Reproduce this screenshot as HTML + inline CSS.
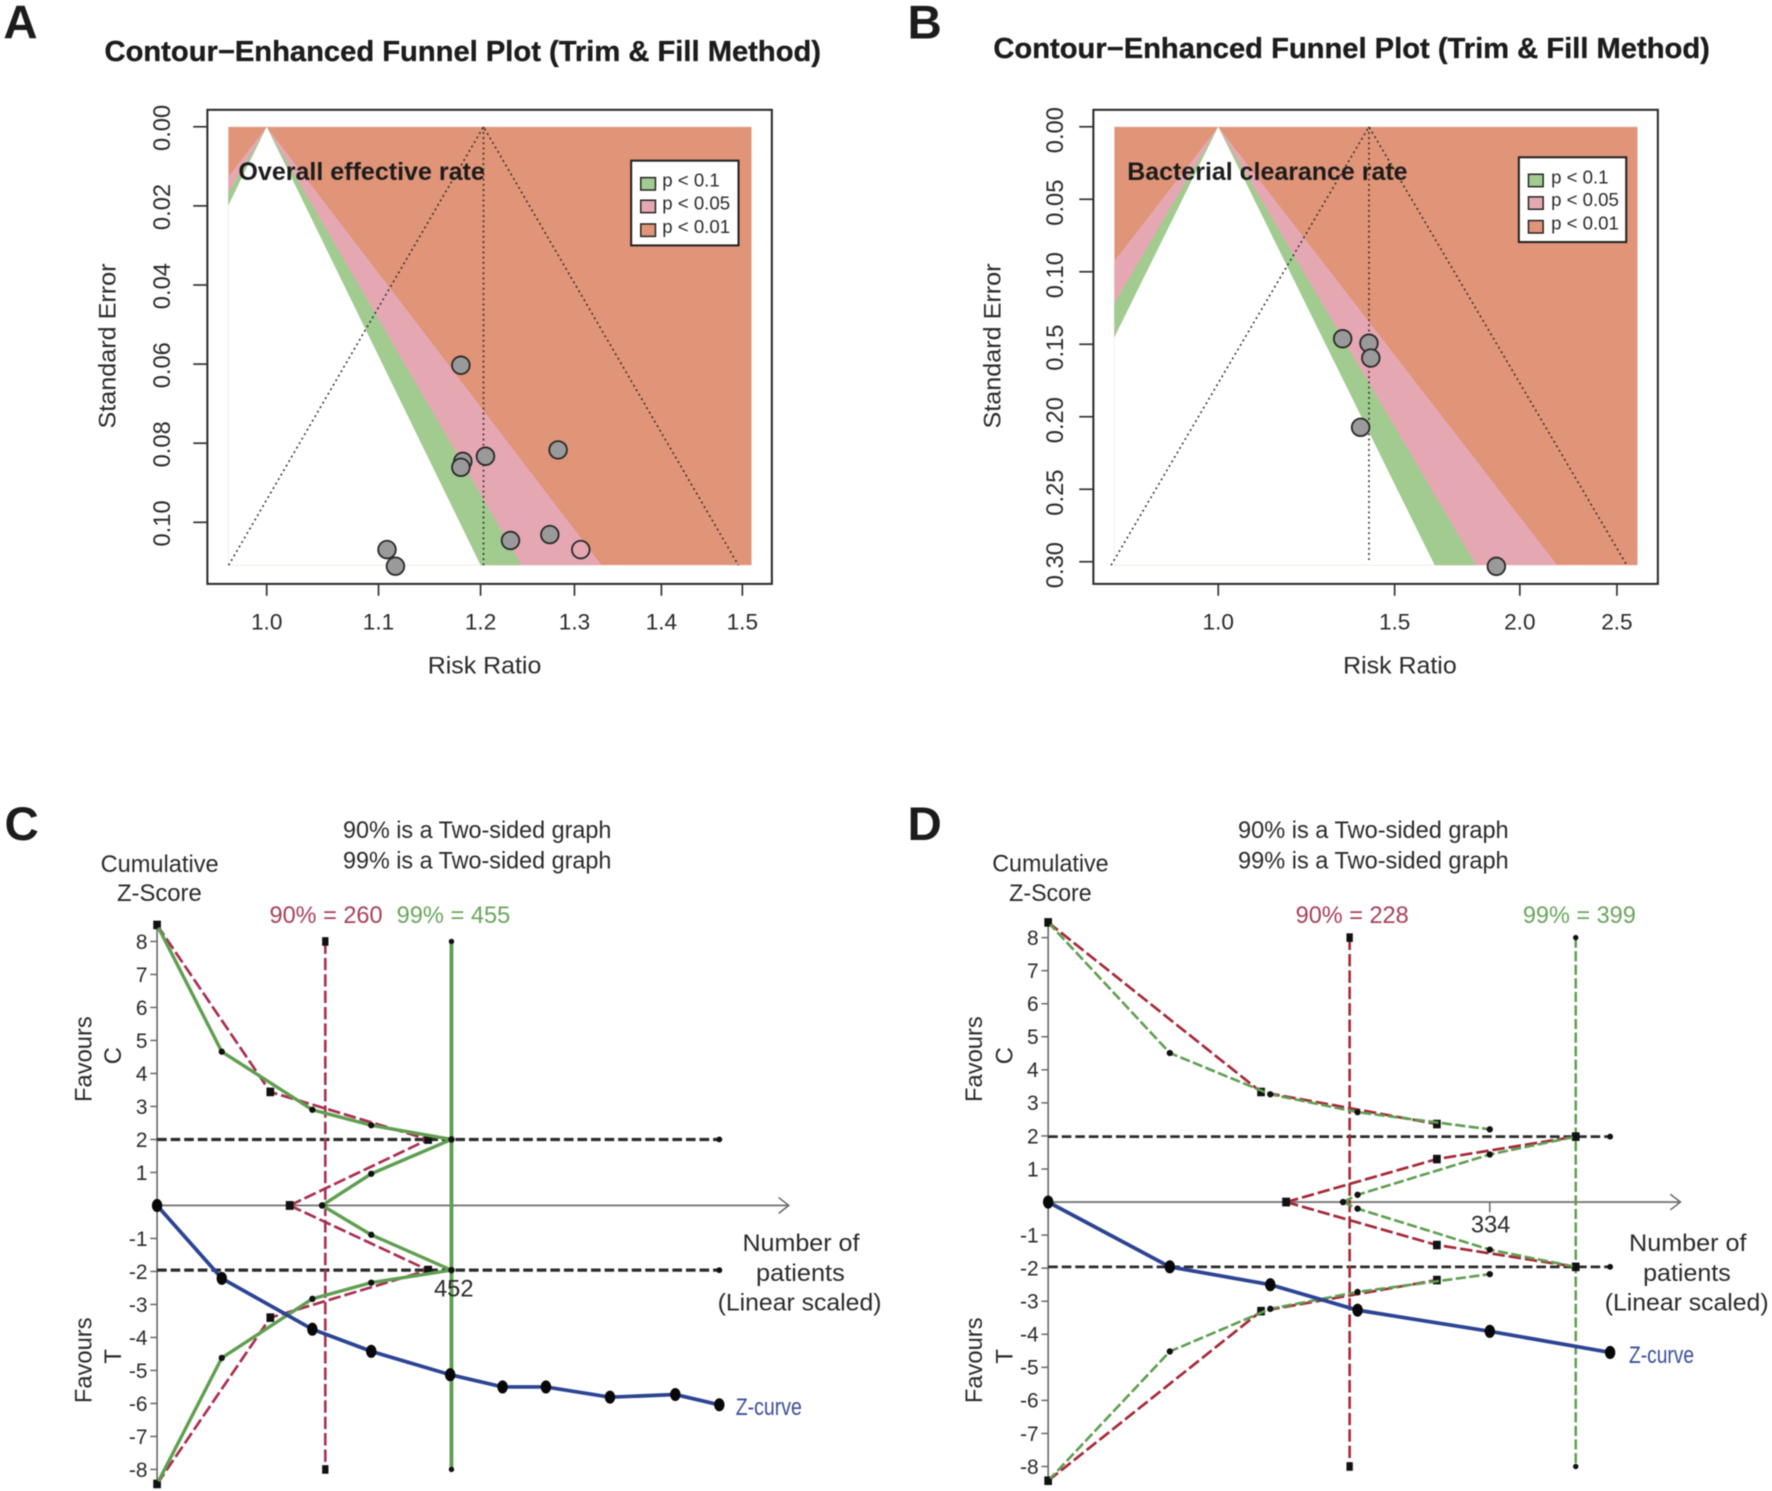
<!DOCTYPE html>
<html lang="en">
<head>
<meta charset="utf-8">
<title>Funnel plots and trial sequential analysis</title>
<style>
html,body{margin:0;padding:0;background:#fff;}
body{width:1772px;height:1491px;overflow:hidden;}
svg{display:block;filter:blur(0.5px);}
text{font-family:"Liberation Sans",Arial,sans-serif;fill:#2b2b2b;}
.h{font-weight:bold;fill:#1c1c1c;}
</style>
</head>
<body>
<svg id="figure" xmlns="http://www.w3.org/2000/svg" width="1772" height="1491" viewBox="0 0 1568 1319">
  <rect x="0" y="0" width="1568" height="1319" fill="#fff"/>
  <defs>
    <clipPath id="clipA"><rect x="202" y="112" width="463" height="388"/></clipPath>
    <clipPath id="clipB"><rect x="986" y="112" width="463" height="388"/></clipPath>
  </defs>
  <g id="marksA"></g>
  <g id="marksB"></g>
  <g id="marksC"></g>
  <g id="marksD"></g>

  <text class="h" x="3" y="34" font-size="42">A</text>
  <text class="h" x="803" y="34" font-size="42">B</text>
  <text class="h" x="4" y="743" font-size="42">C</text>
  <text class="h" x="803" y="743" font-size="42">D</text>

  <text class="h" x="92.5" y="54" font-size="25" stroke="#1c1c1c" stroke-width="0.3" textLength="634" lengthAdjust="spacingAndGlyphs">Contour−Enhanced Funnel Plot (Trim &amp; Fill Method)</text>
  <text class="h" x="879" y="51" font-size="25" stroke="#1c1c1c" stroke-width="0.3" textLength="634" lengthAdjust="spacingAndGlyphs">Contour−Enhanced Funnel Plot (Trim &amp; Fill Method)</text>
  <text class="h" x="211" y="159" font-size="22" textLength="218" lengthAdjust="spacingAndGlyphs">Overall effective rate</text>
  <text class="h" x="997.5" y="159" font-size="22" textLength="248" lengthAdjust="spacingAndGlyphs">Bacterial clearance rate</text>

  <text x="378.5" y="596" font-size="21" textLength="100.5" lengthAdjust="spacingAndGlyphs">Risk Ratio</text>
  <text x="1188.5" y="596" font-size="21" textLength="100.5" lengthAdjust="spacingAndGlyphs">Risk Ratio</text>
  <text transform="translate(102 379) rotate(-90)" font-size="21" textLength="146" lengthAdjust="spacingAndGlyphs">Standard Error</text>
  <text transform="translate(885.5 379) rotate(-90)" font-size="21" textLength="146" lengthAdjust="spacingAndGlyphs">Standard Error</text>

  <g>
    <rect x="558.5" y="142" width="95" height="75" fill="#fff" stroke="#222" stroke-width="1.8"/>
    <rect x="567" y="157" width="13" height="11" fill="#a2cb90" stroke="#222" stroke-width="1.3"/>
    <rect x="567" y="177" width="13" height="11" fill="#e5a8b3" stroke="#222" stroke-width="1.3"/>
    <rect x="567" y="198" width="13" height="11" fill="#e09478" stroke="#222" stroke-width="1.3"/>
    <text x="586" y="165" font-size="16.5">p &lt; 0.1</text>
    <text x="586" y="185" font-size="16.5">p &lt; 0.05</text>
    <text x="586" y="206" font-size="16.5">p &lt; 0.01</text>
  </g>
  <g>
    <rect x="1344" y="139" width="95" height="75" fill="#fff" stroke="#222" stroke-width="1.8"/>
    <rect x="1352.5" y="154" width="13" height="11" fill="#a2cb90" stroke="#222" stroke-width="1.3"/>
    <rect x="1352.5" y="174" width="13" height="11" fill="#e5a8b3" stroke="#222" stroke-width="1.3"/>
    <rect x="1352.5" y="195" width="13" height="11" fill="#e09478" stroke="#222" stroke-width="1.3"/>
    <text x="1372.5" y="162" font-size="16.5">p &lt; 0.1</text>
    <text x="1372.5" y="182" font-size="16.5">p &lt; 0.05</text>
    <text x="1372.5" y="203" font-size="16.5">p &lt; 0.01</text>
  </g>

  <g>
    <text x="303.5" y="741.5" font-size="21" textLength="237.5" lengthAdjust="spacingAndGlyphs">90% is a Two-sided graph</text>
    <text x="303.5" y="768.5" font-size="21" textLength="237.5" lengthAdjust="spacingAndGlyphs">99% is a Two-sided graph</text>
    <text x="89" y="771.5" font-size="21" textLength="104.5" lengthAdjust="spacingAndGlyphs">Cumulative</text>
    <text x="103.5" y="797" font-size="21" textLength="75" lengthAdjust="spacingAndGlyphs">Z-Score</text>
    <text x="238.5" y="816.5" font-size="21" textLength="100" lengthAdjust="spacingAndGlyphs" style="fill:#a8405a">90% = 260</text>
    <text x="351" y="816.5" font-size="21" textLength="100.5" lengthAdjust="spacingAndGlyphs" style="fill:#6aa65c">99% = 455</text>
    <text transform="translate(81 937) rotate(-90)" font-size="21" text-anchor="middle">Favours</text>
    <text transform="translate(107 934) rotate(-90)" font-size="21" text-anchor="middle">C</text>
    <text transform="translate(81 1203.5) rotate(-90)" font-size="21" text-anchor="middle">Favours</text>
    <text transform="translate(107 1200) rotate(-90)" font-size="21" text-anchor="middle">T</text>
    <text x="384" y="1147" font-size="21" textLength="35" lengthAdjust="spacingAndGlyphs">452</text>
    <text x="657" y="1107" font-size="21" textLength="103.5" lengthAdjust="spacingAndGlyphs">Number of</text>
    <text x="669" y="1133.5" font-size="21" textLength="78.5" lengthAdjust="spacingAndGlyphs">patients</text>
    <text x="635" y="1159.5" font-size="21" textLength="145" lengthAdjust="spacingAndGlyphs">(Linear scaled)</text>
    <text x="651" y="1252" font-size="21" textLength="58.5" lengthAdjust="spacingAndGlyphs" style="fill:#3a4f9a">Z-curve</text>
  </g>
  <g>
    <text x="1095.5" y="741.5" font-size="21" textLength="239.5" lengthAdjust="spacingAndGlyphs">90% is a Two-sided graph</text>
    <text x="1095.5" y="768.5" font-size="21" textLength="239.5" lengthAdjust="spacingAndGlyphs">99% is a Two-sided graph</text>
    <text x="878" y="771" font-size="21" textLength="103" lengthAdjust="spacingAndGlyphs">Cumulative</text>
    <text x="893" y="797" font-size="21" textLength="73" lengthAdjust="spacingAndGlyphs">Z-Score</text>
    <text x="1146.5" y="816.5" font-size="21" textLength="100" lengthAdjust="spacingAndGlyphs" style="fill:#a8405a">90% = 228</text>
    <text x="1347.5" y="816.5" font-size="21" textLength="100" lengthAdjust="spacingAndGlyphs" style="fill:#6aa65c">99% = 399</text>
    <text transform="translate(869 937) rotate(-90)" font-size="21" text-anchor="middle">Favours</text>
    <text transform="translate(896 934) rotate(-90)" font-size="21" text-anchor="middle">C</text>
    <text transform="translate(869 1203.5) rotate(-90)" font-size="21" text-anchor="middle">Favours</text>
    <text transform="translate(896 1200) rotate(-90)" font-size="21" text-anchor="middle">T</text>
    <text x="1301.5" y="1090.5" font-size="21" textLength="35" lengthAdjust="spacingAndGlyphs">334</text>
    <text x="1441.5" y="1107" font-size="21" textLength="104" lengthAdjust="spacingAndGlyphs">Number of</text>
    <text x="1454" y="1133.5" font-size="21" textLength="77.5" lengthAdjust="spacingAndGlyphs">patients</text>
    <text x="1420" y="1159.5" font-size="21" textLength="145" lengthAdjust="spacingAndGlyphs">(Linear scaled)</text>
    <text x="1441.5" y="1206" font-size="21" textLength="57.5" lengthAdjust="spacingAndGlyphs" style="fill:#3a4f9a">Z-curve</text>
  </g>
</svg>

<script>
// ---------- Funnel data ----------
const contourZ = [2.576, 1.96, 1.645];
const aTicksX = [1.0, 1.1, 1.2, 1.3, 1.4, 1.5];
const aTicksY = [0, 0.02, 0.04, 0.06, 0.08, 0.10];
const aRR = [1.180, 1.282, 1.205, 1.182, 1.180, 1.231, 1.273, 1.307, 1.108, 1.116];
const aSE = [0.0603, 0.0817, 0.0833, 0.0846, 0.0861, 0.1046, 0.1031, 0.1069, 0.1069, 0.1111];
const aFilled = [0, 0, 0, 0, 0, 0, 0, 1, 0, 0];
const aPooled = 1.203;
const bTicksX = [1.0, 1.5, 2.0, 2.5];
const bTicksY = [0, 0.05, 0.10, 0.15, 0.20, 0.25, 0.30];
const bRR = [1.331, 1.414, 1.420, 1.387, 1.895];
const bSE = [0.1462, 0.1493, 0.1595, 0.2073, 0.3032];
const bFilled = [0, 0, 0, 0, 0];
const bPooled = 1.414;

// ---------- Sequential data, panel C ----------
const zTicks = [8, 7, 6, 5, 4, 3, 2, 1, -1, -2, -3, -4, -5, -6, -7, -8];
const cCurveN = [0, 100, 240, 331, 453, 534, 601, 700, 801, 869];
const cCurveZ = [0, -2.21, -3.75, -4.42, -5.13, -5.5, -5.5, -5.81, -5.73, -6.04];
const cGreenUpN = [0, 100, 240, 331, 455];
const cGreenUpZ = [8.5, 4.66, 2.9, 2.43, 2.0];
const cGreenLoN = [0, 100, 240, 331, 455];
const cGreenLoZ = [-8.44, -4.62, -2.83, -2.34, -1.96];
const cGreenInUpN = [255, 331, 455];
const cGreenInUpZ = [0, 0.96, 2.0];
const cGreenInLoN = [255, 331, 455];
const cGreenInLoZ = [0, -0.89, -1.96];
const cRedUpN = [0, 175, 419];
const cRedUpZ = [8.5, 3.44, 2.0];
const cRedLoN = [0, 175, 419];
const cRedLoZ = [-8.44, -3.4, -1.96];
const cRedInUpN = [205, 419];
const cRedInUpZ = [0, 2.0];
const cRedInLoN = [205, 419];
const cRedInLoZ = [0, -1.96];
const cRIS90 = 260;
const cRIS99 = 455;
const cMaxN = 869;
const cHLines = [2.0, -1.96];

// ---------- Sequential data, panel D ----------
const dCurveN = [0, 92, 168, 234, 334, 425];
const dCurveZ = [0, -1.96, -2.5, -3.27, -3.91, -4.55];
const dGreenUpN = [0, 92, 168, 234, 334];
const dGreenUpZ = [8.46, 4.51, 3.26, 2.72, 2.2];
const dGreenLoN = [0, 92, 168, 234, 334];
const dGreenLoZ = [-8.43, -4.52, -3.23, -2.72, -2.18];
const dGreenInUpN = [223, 234, 334, 399];
const dGreenInUpZ = [0, 0.22, 1.44, 1.98];
const dGreenInLoN = [223, 234, 334, 399];
const dGreenInLoZ = [0, -0.2, -1.44, -1.96];
const dRedUpN = [0, 161, 294];
const dRedUpZ = [8.46, 3.33, 2.36];
const dRedLoN = [0, 161, 294];
const dRedLoZ = [-8.43, -3.3, -2.36];
const dRedInUpN = [180, 294, 399];
const dRedInUpZ = [0, 1.3, 1.98];
const dRedInLoN = [180, 294, 399];
const dRedInLoZ = [0, -1.3, -1.96];
const dRIS90 = 228;
const dRIS99 = 399;
const dMaxN = 425;
const dHLines = [1.98, -1.96];
const dTickN = [334];

const NS = 'http://www.w3.org/2000/svg';
const RED_C = '#a8304f', RED_D = '#a62a38', GREEN = '#5f9e50', BLUE = '#2b4494', DARK = '#2c2c2c';

function add(parent, tag, name, attrs, txt) {
  const el = document.createElementNS(NS, tag);
  
  
  for (const k in attrs) el.setAttribute(k, attrs[k]);
  if (txt !== undefined) el.textContent = txt;
  parent.appendChild(el);
  return el;
}

function funnel(cfg) {
  const g = document.getElementById(cfg.id);
  const x = rr => cfg.x1 + cfg.xs * Math.log(rr);
  const y = se => 112 + cfg.ys * se;
  const seMax = 388 / cfg.ys;
  const L = cfg.left;
  const regions = add(g, 'g', 'contour-regions', { 'clip-path': 'url(#' + cfg.clip + ')' });
  add(regions, 'rect', 'region-p01', { x: L, y: 112, width: 463, height: 388, fill: '#e09478' });
  const cols = ['#e5a8b3', '#a2cb90', '#ffffff'];
  const names = ['region-p05', 'region-p10', 'region-not-significant'];
  contourZ.forEach((z, i) => {
    const pts = [[x(1), y(0)], [x(Math.exp(z * seMax)), y(seMax)], [x(Math.exp(-z * seMax)), y(seMax)]];
    add(regions, 'polygon', names[i], { points: pts.map(p => p.join(',')).join(' '), fill: cols[i] });
  });
  const cx = x(cfg.pooled);
  const dots = { stroke: '#2a2a2a', 'stroke-width': 1.4, 'stroke-dasharray': '1.6 3', fill: 'none' };
  add(g, 'line', 'pooled-estimate-line', Object.assign({ x1: cx, y1: y(0), x2: cx, y2: cfg.vEnd }, dots));
  const sp = 1.96 * seMax * cfg.xs;
  add(g, 'polyline', 'pseudo-confidence-limits', Object.assign({ points: (cx - sp) + ',500 ' + cx + ',' + y(0) + ' ' + (cx + sp) + ',500' }, dots));
  add(g, 'rect', 'plot-box', { x: cfg.boxX, y: 97, width: 499.5, height: 419.5, fill: 'none', stroke: '#2a2a2a', 'stroke-width': 1.8 });
  cfg.ticksX.forEach(t => {
    add(g, 'line', 'x-tick', { x1: x(t), y1: 516.5, x2: x(t), y2: 527, stroke: '#333', 'stroke-width': 1.5 });
    add(g, 'text', 'x-tick-label', { x: x(t), y: 557, 'font-size': 20, 'text-anchor': 'middle' }, t.toFixed(1));
  });
  cfg.ticksY.forEach(t => {
    add(g, 'line', 'y-tick', { x1: cfg.boxX, y1: y(t), x2: cfg.boxX - 12.5, y2: y(t), stroke: '#333', 'stroke-width': 1.5 });
    add(g, 'text', 'y-tick-label', { transform: 'translate(' + cfg.ylx + ' ' + (y(t) + cfg.yld) + ') rotate(-90)', 'font-size': 21, 'text-anchor': 'middle' }, t.toFixed(2));
  });
  cfg.rr.forEach((rr, i) => {
    add(g, 'circle', 'study-point', { cx: x(rr), cy: y(cfg.se[i]), r: 7.8, fill: cfg.filled[i] ? 'none' : '#9a9a9a', stroke: '#2a2a2a', 'stroke-width': 1.6 });
  });
}

function seq(cfg) {
  const g = document.getElementById(cfg.id);
  const x = n => cfg.x0 + cfg.xs * n;
  const y = z => cfg.y0 - cfg.ys * z;
  const path = (ns, zs) => ns.map((n, i) => x(n) + ',' + y(zs[i])).join(' ');
  add(g, 'line', 'y-axis', { x1: x(0), y1: y(8.5), x2: x(0), y2: y(-8.5), stroke: '#666', 'stroke-width': 1.4 });
  add(g, 'line', 'x-axis', { x1: x(0), y1: y(0), x2: cfg.axisEnd, y2: y(0), stroke: '#777', 'stroke-width': 1.6 });
  add(g, 'polyline', 'x-axis-arrow', { points: (cfg.axisEnd - 9) + ',' + (y(0) - 7) + ' ' + cfg.axisEnd + ',' + y(0) + ' ' + (cfg.axisEnd - 9) + ',' + (y(0) + 7), fill: 'none', stroke: '#666', 'stroke-width': 1.3 });
  zTicks.forEach(t => {
    add(g, 'line', 'y-tick', { x1: x(0) - 6, y1: y(t), x2: x(0), y2: y(t), stroke: '#666', 'stroke-width': 1.3 });
    add(g, 'text', 'y-tick-label', { x: x(0) - 8.5, y: y(t) + 6.5, 'font-size': 18.5, 'text-anchor': 'end' }, String(t));
  });
  (cfg.xTicks || []).forEach(n => {
    add(g, 'line', 'x-tick', { x1: x(n), y1: y(0), x2: x(n), y2: y(0) + 9, stroke: '#666', 'stroke-width': 1.3 });
  });
  cfg.hLines.forEach(z => {
    add(g, 'line', 'conventional-boundary', { x1: x(0), y1: y(z), x2: x(cfg.maxN), y2: y(z), stroke: DARK, 'stroke-width': cfg.hW, 'stroke-dasharray': '8.5 3.5' });
    add(g, 'circle', 'boundary-end', { cx: x(cfg.maxN), cy: y(z), r: 2.6, fill: '#111' });
  });
  add(g, 'line', 'ris-90-line', { x1: x(cfg.ris90), y1: y(8), x2: x(cfg.ris90), y2: y(-8), stroke: cfg.red, 'stroke-width': 2.3, 'stroke-dasharray': '11 3.5' });
  add(g, 'line', 'ris-99-line', { x1: x(cfg.ris99), y1: y(8), x2: x(cfg.ris99), y2: y(-8), stroke: GREEN, 'stroke-width': cfg.greenW > 2.5 ? 3.4 : 2.2, 'stroke-dasharray': cfg.greenDash });
  [8, -8].forEach(z => {
    add(g, 'rect', 'ris-90-end', { x: x(cfg.ris90) - 2.8, y: y(z) - 3.8, width: 5.6, height: 7.6, fill: '#111' });
    add(g, 'circle', 'ris-99-end', { cx: x(cfg.ris99), cy: y(z), r: 2.4, fill: '#111' });
  });
  cfg.reds.forEach(s => {
    add(g, 'polyline', 'alpha-boundary-90', { points: path(s[0], s[1]), fill: 'none', stroke: cfg.red, 'stroke-width': 2.4, 'stroke-dasharray': '11 3.5' });
    s[0].forEach((n, i) => add(g, 'rect', 'alpha-boundary-90-point', { x: x(n) - 3.4, y: y(s[1][i]) - 3.8, width: 6.8, height: 7.6, fill: '#111' }));
  });
  cfg.greens.forEach(s => {
    add(g, 'polyline', 'alpha-boundary-99', { points: path(s[0], s[1]), fill: 'none', stroke: GREEN, 'stroke-width': cfg.greenW, 'stroke-dasharray': cfg.greenDash });
    s[0].forEach((n, i) => add(g, 'circle', 'alpha-boundary-99-point', { cx: x(n), cy: y(s[1][i]), r: 2.8, fill: '#111' }));
  });
  add(g, 'polyline', 'z-curve', { points: path(cfg.curveN, cfg.curveZ), fill: 'none', stroke: BLUE, 'stroke-width': 3.3 });
  cfg.curveN.forEach((n, i) => {
    add(g, 'ellipse', 'z-curve-point', { cx: x(n), cy: y(cfg.curveZ[i]), rx: 4.6, ry: 5.8, fill: '#080808' });
  });
}

funnel({ id: 'marksA', clip: 'clipA', left: 202, boxX: 183.5, x1: 236, xs: 1038, ys: 3500, pooled: aPooled, vEnd: 500,
  ticksX: aTicksX, ticksY: aTicksY, rr: aRR, se: aSE, filled: aFilled, ylx: 150.5, yld: 1 });
funnel({ id: 'marksB', clip: 'clipB', left: 986, boxX: 967.5, x1: 1078, xs: 385, ys: 1283, pooled: bPooled, vEnd: 497,
  ticksX: bTicksX, ticksY: bTicksY, rr: bRR, se: bSE, filled: bFilled, ylx: 940.5, yld: 3 });

seq({ id: 'marksC', x0: 139, xs: 0.5725, y0: 1066.5, ys: 29.2, axisEnd: 698, maxN: cMaxN, ris90: cRIS90, ris99: cRIS99,
  hLines: cHLines, hW: 2.9, red: RED_C, greenW: 3, greenDash: 'none',
  reds: [[cRedUpN, cRedUpZ], [cRedLoN, cRedLoZ], [cRedInUpN, cRedInUpZ], [cRedInLoN, cRedInLoZ]],
  greens: [[cGreenUpN, cGreenUpZ], [cGreenLoN, cGreenLoZ], [cGreenInUpN, cGreenInUpZ], [cGreenInLoN, cGreenInLoZ]],
  curveN: cCurveN, curveZ: cCurveZ });
seq({ id: 'marksD', x0: 927.5, xs: 1.17, y0: 1063.5, ys: 29.25, axisEnd: 1487, maxN: dMaxN, ris90: dRIS90, ris99: dRIS99,
  hLines: dHLines, hW: 2.4, red: RED_D, greenW: 2.3, greenDash: '9 3', xTicks: dTickN,
  reds: [[dRedUpN, dRedUpZ], [dRedLoN, dRedLoZ], [dRedInUpN, dRedInUpZ], [dRedInLoN, dRedInLoZ]],
  greens: [[dGreenUpN, dGreenUpZ], [dGreenLoN, dGreenLoZ], [dGreenInUpN, dGreenInUpZ], [dGreenInLoN, dGreenInLoZ]],
  curveN: dCurveN, curveZ: dCurveZ });
</script>
</body>
</html>
